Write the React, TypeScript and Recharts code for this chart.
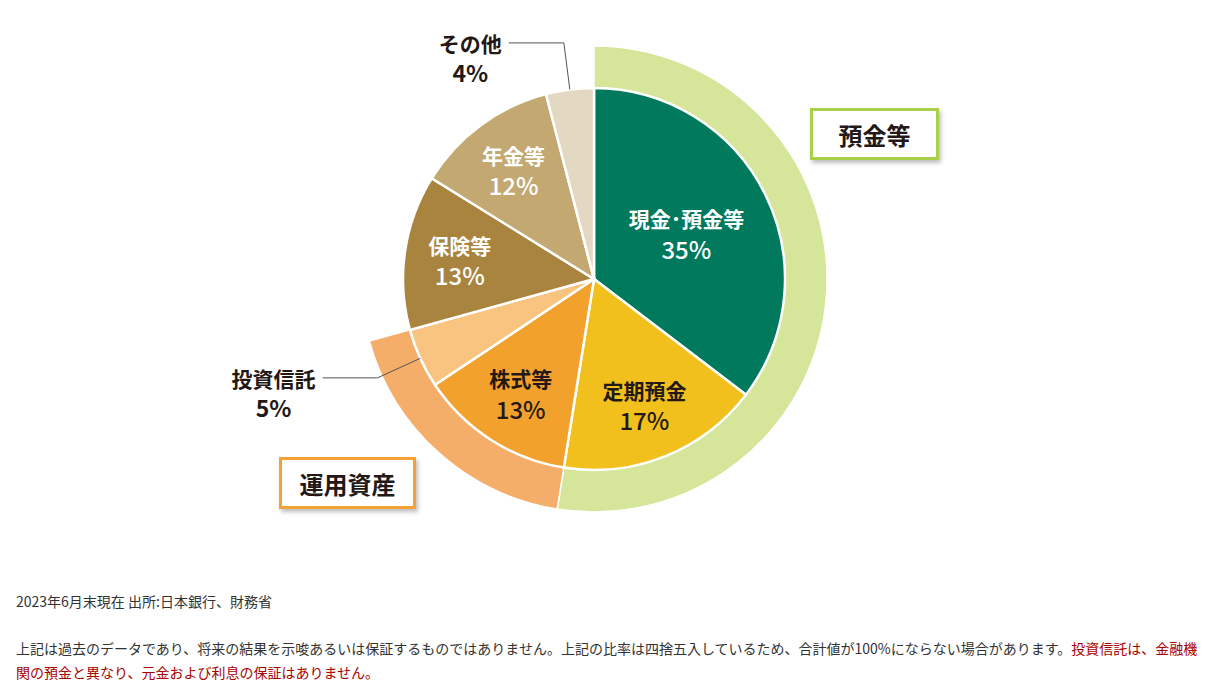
import { PieChart, Pie, Cell } from 'recharts';

const assetNames = ['現金･預金等', '定期預金', '株式等', '投資信託', '保険等', '年金等', 'その他'];
const assetShares = [35, 17, 13, 5, 13, 12, 4];
const assetColors = ['#00795c', '#f2c01c', '#f2a22c', '#f8c47f', '#a8843f', '#c4a872', '#e3d8c1'];
const assetTextColors = ['#fff', '#231815', '#231815', '#231815', '#fff', '#fff', '#231815'];

const groupNames = ['預金等', '運用資産', ''];
const groupShares = [52, 18, 29];
const groupColors = ['#d5e59a', '#f4ae6a', 'none'];

const sourceNote = '2023年6月末現在 出所:日本銀行、財務省';
const disclaimerLine1 = '上記は過去のデータであり、将来の結果を示唆あるいは保証するものではありません。上記の比率は四捨五入しているため、合計値が100%にならない場合があります。';
const disclaimerRed1 = '投資信託は、金融機';
const disclaimerRed2 = '関の預金と異なり、元金および利息の保証はありません。';

const FONT = "'Noto Sans CJK JP', 'Noto Sans', sans-serif";
const RAD = Math.PI / 180;

const innerData = assetNames.map((name, i) => ({ name, value: assetShares[i] }));
const ringData = groupNames.map((name, i) => ({ name, value: groupShares[i] }));

const renderLabel = (props: any) => {
  const { cx, cy, midAngle, outerRadius, index, value } = props;
  const name = assetNames[index];
  const color = assetTextColors[index];
  const cos = Math.cos(-midAngle * RAD);
  const sin = Math.sin(-midAngle * RAD);

  // small slices get an outside label with a leader line
  if (value <= 5) {
    const x0 = cx + outerRadius * cos;
    const y0 = cy + outerRadius * sin;
    const x1 = cx + 238 * cos;
    const y1 = cy + 238 * sin;
    const x2 = x1 - 55;
    const nameW = name.length * 21;
    const tx = x2 - 7;
    return (
      <g key={`lbl-${index}`}>
        <polyline points={`${x0},${y0} ${x1},${y1} ${x2},${y1}`} fill="none" stroke="#555" strokeWidth={1} />
        <text x={tx} y={y1} textAnchor="end" dominantBaseline="central" fontSize={21} fontWeight={700} fill="#231815" fontFamily={FONT}>
          {name}
        </text>
        <text x={tx - nameW / 2} y={y1 + 29} textAnchor="middle" dominantBaseline="central" fontSize={23} fontWeight={700} fill="#231815" fontFamily={FONT}>
          {value}%
        </text>
      </g>
    );
  }

  const r = value >= 30 ? outerRadius * 0.54 : outerRadius * 0.71;
  const x = cx + r * cos;
  const y = cy + r * sin;
  return (
    <g key={`lbl-${index}`}>
      <text x={x} y={y - 15} textAnchor="middle" dominantBaseline="central" fontSize={21} fontWeight={700} fill={color} fontFamily={FONT}>
        {name}
      </text>
      <text x={x} y={y + 15} textAnchor="middle" dominantBaseline="central" fontSize={24} fontWeight={500} fill={color} fontFamily={FONT}>
        {value}%
      </text>
    </g>
  );
};

const boxStyle = (border: string, left: number, top: number, width: number): React.CSSProperties => ({
  position: 'absolute',
  left,
  top,
  width,
  height: 52,
  boxSizing: 'border-box',
  border: `3px solid ${border}`,
  background: '#fff',
  boxShadow: '2px 3px 4px rgba(0,0,0,0.25)',
  display: 'flex',
  alignItems: 'center',
  justifyContent: 'center',
  fontFamily: FONT,
  fontSize: 24,
  fontWeight: 700,
  color: '#231815',
});

export default function App() {
  return (
    <div style={{ position: 'relative', width: 1198, height: 684, fontFamily: FONT }}>
      <div style={{ position: 'absolute', left: 0, top: 0 }}>
        <PieChart width={1198} height={560} margin={{ top: 0, right: 0, bottom: 0, left: 0 }}>
          <Pie
            data={ringData}
            dataKey="value"
            cx={586}
            cy={271}
            innerRadius={191}
            outerRadius={233}
            startAngle={90}
            endAngle={-270}
            isAnimationActive={false}
          >
            {ringData.map((d, i) => (
              <Cell key={d.name + i} fill={groupColors[i]} stroke={groupColors[i] === 'none' ? 'none' : '#fff'} strokeWidth={1.5} />
            ))}
          </Pie>
          <Pie
            data={innerData}
            dataKey="value"
            cx={586}
            cy={271}
            outerRadius={191}
            startAngle={90}
            endAngle={-270}
            stroke="#fff"
            strokeWidth={2.5}
            label={renderLabel}
            labelLine={false}
            isAnimationActive={false}
          >
            {innerData.map((d, i) => (
              <Cell key={d.name} fill={assetColors[i]} />
            ))}
          </Pie>
        </PieChart>
      </div>

      <div style={boxStyle('#a9d046', 802, 100, 129)}>{groupNames[0]}</div>
      <div style={boxStyle('#f4a236', 271, 449, 137)}>{groupNames[1]}</div>

      <div style={{ position: 'absolute', left: 8, top: 581, fontSize: 14, lineHeight: '24px', color: '#333', whiteSpace: 'nowrap' }}>
        {sourceNote}
      </div>
      <div style={{ position: 'absolute', left: 8, top: 628, fontSize: 14, lineHeight: '24px', color: '#333', whiteSpace: 'nowrap' }}>
        <div>
          {disclaimerLine1}
          <span style={{ color: '#a80000' }}>{disclaimerRed1}</span>
        </div>
        <div style={{ color: '#a80000' }}>{disclaimerRed2}</div>
      </div>
    </div>
  );
}
